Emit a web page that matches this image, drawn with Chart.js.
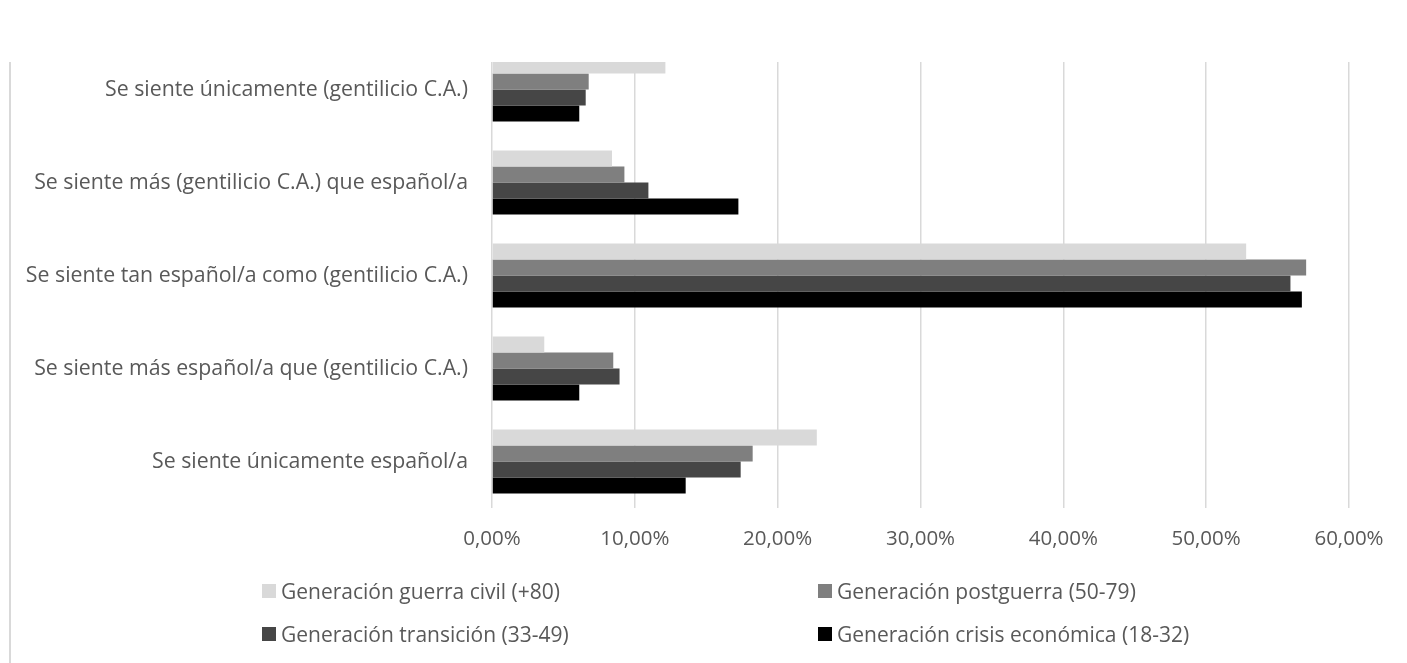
<!DOCTYPE html>
<html lang="es">
<head>
<meta charset="utf-8">
<title>Sentimiento de identidad por generación</title>
<script src="https://cdn.jsdelivr.net/npm/chart.js@4/dist/chart.umd.min.js"></script>
<style>
  html, body { margin: 0; padding: 0; background: #fff; }
  body { width: 1407px; height: 663px; position: relative; overflow: hidden; font-family: "Open Sans", sans-serif; }
  #frame {
    position: absolute; left: 9px; top: 62px; width: 1396px; height: 601px;
    border-left: 2px solid #d9d9d9; overflow: hidden;
  }
  #chart { position: absolute; left: -11px; top: -62px; }
  #legend {
    position: absolute; left: 262px; top: 579px;
    display: grid; grid-template-columns: 556px 556px; grid-auto-rows: 43px;
  }
  .item { display: flex; align-items: center; height: 24px; color: #595959; font-size: 21px; white-space: nowrap; }
  .swatch { width: 14px; height: 14px; margin-right: 5px; flex: none; }
</style>
</head>
<body>
<div id="frame"><canvas id="chart" width="1407" height="663"></canvas></div>
<div id="legend"></div>
<script>
// Categories (top to bottom)
const categories = [
  "Se siente únicamente (gentilicio C.A.)",
  "Se siente más (gentilicio C.A.) que español/a",
  "Se siente tan español/a como (gentilicio C.A.)",
  "Se siente más español/a que (gentilicio C.A.)",
  "Se siente únicamente español/a"
];

// Series names
const seriesNames = [
  "Generación guerra civil (+80)",
  "Generación postguerra (50-79)",
  "Generación transición (33-49)",
  "Generación crisis económica (18-32)"
];

// Percentages per generation, in category order
const guerraCivil     = [12.14,  8.40, 52.80, 3.66, 22.74];
const postguerra      = [ 6.77,  9.27, 57.00, 8.49, 18.25];
const transicion      = [ 6.56, 10.95, 55.90, 8.93, 17.41];
const crisisEconomica = [ 6.11, 17.25, 56.70, 6.11, 13.56];

// Axis ticks
const xTicks = [0, 10, 20, 30, 40, 50, 60];

const seriesColors = ["#d9d9d9", "#7f7f7f", "#464646", "#000000"];
const seriesValues = [guerraCivil, postguerra, transicion, crisisEconomica];

const textColor = "#595959";
const tickFont = { family: "'Open Sans', sans-serif", size: 20.5 };
const categoryFont = { family: "'Open Sans', sans-serif", size: 21.3 };

const datasets = seriesNames.map((name, i) => ({
  label: name,
  data: seriesValues[i],
  backgroundColor: seriesColors[i],
  borderWidth: 0,
  categoryPercentage: 0.688,
  barPercentage: 1.0
}));

new Chart(document.getElementById("chart"), {
  type: "bar",
  data: { labels: categories, datasets },
  options: {
    indexAxis: "y",
    responsive: false,
    animation: false,
    devicePixelRatio: 1,
    layout: { padding: { top: 43, right: 58, bottom: 0, left: 0 } },
    plugins: { legend: { display: false }, tooltip: { enabled: false } },
    scales: {
      x: {
        min: xTicks[0],
        max: xTicks[xTicks.length - 1],
        afterBuildTicks: (scale) => { scale.ticks = xTicks.map(v => ({ value: v })); },
        afterFit: (scale) => { scale.height = 155; },
        grid: { color: "#d9d9d9", lineWidth: 1.5, drawTicks: false },
        border: { display: false },
        ticks: {
          color: textColor, font: tickFont, padding: 19, maxRotation: 0,
          callback: (v) => Number(v).toFixed(2).replace(".", ",") + "%"
        }
      },
      y: {
        afterFit: (scale) => { scale.width = 492; },
        grid: { display: false, drawTicks: false },
        border: { display: false },
        ticks: { color: textColor, font: categoryFont, padding: 24 }
      }
    }
  }
});

// Legend: two columns, row-major order
const legend = document.getElementById("legend");
seriesNames.forEach((name, i) => {
  const item = document.createElement("div");
  item.className = "item";
  const sw = document.createElement("span");
  sw.className = "swatch";
  sw.style.background = seriesColors[i];
  const label = document.createElement("span");
  label.textContent = name;
  item.appendChild(sw);
  item.appendChild(label);
  legend.appendChild(item);
});
</script>
</body>
</html>
